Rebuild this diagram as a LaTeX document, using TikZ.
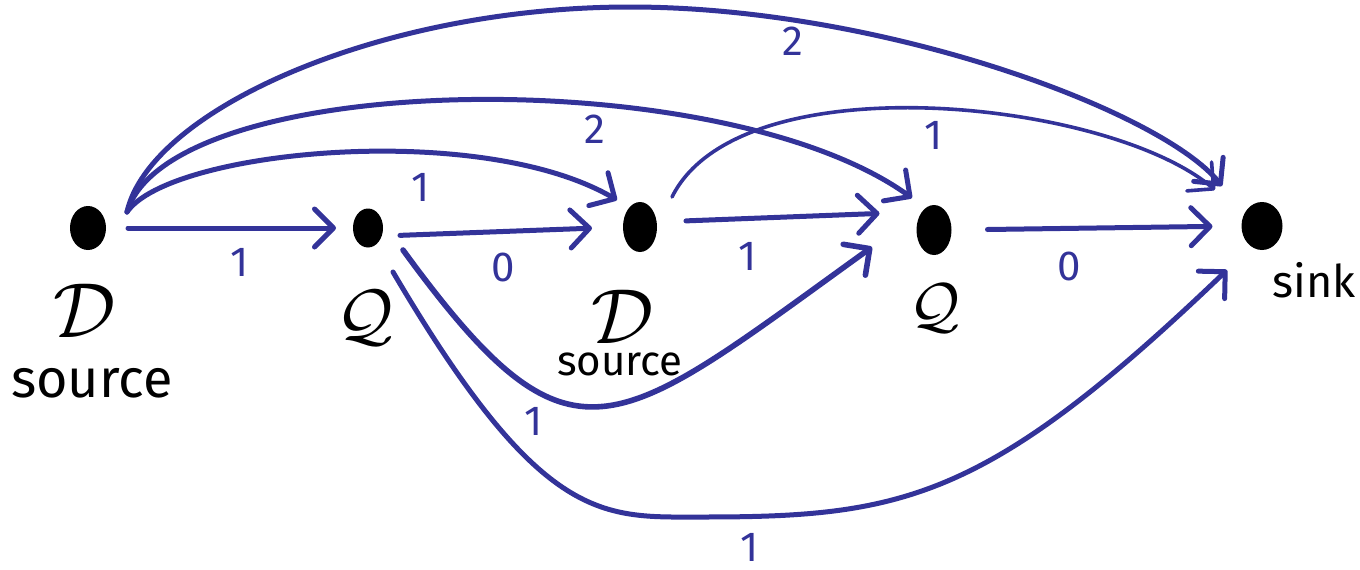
\documentclass[tikz,border=0pt]{standalone}
\usepackage{fontspec}
\setmainfont{Fira Sans}
\usepackage{graphicx}
\usetikzlibrary{shapes.geometric,arrows.meta}
\definecolor{pen}{RGB}{51,51,153}
\begin{document}
\begin{tikzpicture}[x=1pt,y=-1pt,
  dot/.style={ellipse, fill=black, draw=none, inner sep=0pt, outer sep=0pt},
  edge/.style={draw=pen, line width=5pt, line cap=round,
    -{Straight Barb[length=19pt,width=38pt,round]}},
  wt/.style={text=pen, font=\fontsize{42}{42}\selectfont, inner sep=0pt},
  lbl/.style={text=black, inner sep=0pt}]
\useasboundingbox (0,0) rectangle (1360,570);

% vertices
\node[dot, minimum width=36pt, minimum height=44pt] (n1) at (88,228) {};
\node[dot, minimum width=30pt, minimum height=39pt] (n2) at (368,228) {};
\node[dot, minimum width=34pt, minimum height=50pt] (n3) at (640,227) {};
\node[dot, minimum width=35pt, minimum height=50pt] (n4) at (934,230) {};
\node[dot, minimum width=41pt, minimum height=48pt] (n5) at (1262,226) {};

% vertex labels
\node[lbl] (d1) at (85,311) {\scalebox{7.8}{$\mathcal{D}$}};
\node[lbl, font=\fontsize{54}{54}\selectfont] (s1) at (92,383) {source};
\node[lbl] (q2) at (365,318) {\scalebox{7.0}{$\mathcal{Q}$}};
\node[lbl] (d3) at (623,317) {\scalebox{7.8}{$\mathcal{D}$}};
\node[lbl, font=\fontsize{42}{42}\selectfont] (s3) at (620,364) {source};
\node[lbl] (q4) at (935,308) {\scalebox{6.2}{$\mathcal{Q}$}};
\node[lbl, font=\fontsize{45}{45}\selectfont] (sk) at (1314,280) {sink};

% straight edges
\draw[edge, shorten <=22pt, shorten >=17pt] (n1.east) -- (n2.west);
\draw[edge, shorten <=17pt, shorten >=31pt] ([yshift=-8pt]n2.east) -- (n3.west);
\draw[edge, shorten <=29pt, shorten >=37pt] ([yshift=5pt]n3.east) -- ([yshift=18pt]n4.west);
\draw[edge, shorten <=36pt, shorten >=29pt] (n4.east) -- (n5.west);

% upper arcs
\draw[edge] ([shift={(39,-16)}]n1.center) .. controls (170,150) and (480,120) .. ([shift={(-23,-27)}]n3.center);
\draw[edge] ([shift={(39,-16)}]n1.center) .. controls (170,70) and (720,60) .. ([shift={(-22,-32)}]n4.center);
\draw[edge] ([shift={(39,-16)}]n1.center) .. controls (150,110) and (380,7) .. (630,7)
  .. controls (880,7) and (1160,110) .. ([shift={(-40,-40)}]n5.center);
\draw[edge, line width=3.6pt] ([shift={(32,-30)}]n3.center) .. controls (740,60) and (1110,100) .. ([shift={(-47,-36)}]n5.center);

% lower arcs
\draw[edge, line width=5.6pt] ([shift={(35,22)}]n2.center) .. controls (573,483) and (612,434) .. ([shift={(-62,17)}]n4.center);
\draw[edge] ([shift={(25,44)}]n2.center) .. controls (543,527) and (603,517) .. (703,517)
  .. controls (903,517) and (987,500) .. ([shift={(-35,44)}]n5.center);

% weights
\node[wt] (w1) at (240,262) {1};
\node[wt] (w2) at (503,267) {0};
\node[wt] (w3) at (421,187) {1};
\node[wt] (w4) at (595,129) {2};
\node[wt] (w5) at (793,41) {2};
\node[wt] (w6) at (748,256) {1};
\node[wt] (w7) at (934,135) {1};
\node[wt] (w8) at (1069,266) {0};
\node[wt] (w9) at (534,421) {1};
\node[wt] (w10) at (750,547) {1};
\end{tikzpicture}
\end{document}
